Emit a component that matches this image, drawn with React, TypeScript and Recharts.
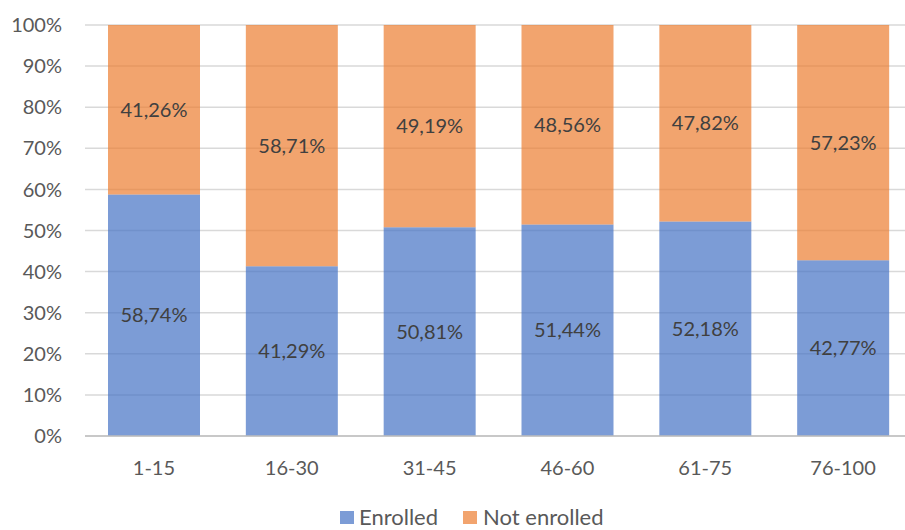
import React from "react";
import { BarChart, Bar, XAxis, YAxis, CartesianGrid, Legend, LabelList } from "recharts";

const categories = ["1-15", "16-30", "31-45", "46-60", "61-75", "76-100"];
const enrolled = [58.74, 41.29, 50.81, 51.44, 52.18, 42.77];
const notEnrolled = [41.26, 58.71, 49.19, 48.56, 47.82, 57.23];
const yTicks = [0, 10, 20, 30, 40, 50, 60, 70, 80, 90, 100];

const data = categories.map((c, i) => ({
  group: c,
  enrolled: enrolled[i],
  notEnrolled: notEnrolled[i],
}));

const FONT = "Lato, 'Open Sans', sans-serif";
const BLUE = "#4472C4";
const ORANGE = "#ED7D31";

const fmt = (v: any) => Number(v).toFixed(2).replace(".", ",") + "%";

const LegendContent = () => (
  <div style={{ display: "flex", alignItems: "center", fontFamily: FONT, fontSize: 22, color: "#595959", lineHeight: "22px" }}>
    <span style={{ width: 14, height: 13, background: BLUE, opacity: 0.7, display: "inline-block", marginRight: 5 }} />
    <span style={{ marginRight: 25 }}>Enrolled</span>
    <span style={{ width: 14, height: 13, background: ORANGE, opacity: 0.7, display: "inline-block", marginRight: 6 }} />
    <span>Not enrolled</span>
  </div>
);

export default function App() {
  return (
    <div style={{ position: "fixed", left: 0, top: 0, width: 905, height: 530, overflow: "hidden", background: "#fff" }}>
      <BarChart
        width={912}
        height={530}
        data={data}
        margin={{ top: 25, right: 0, left: 0, bottom: 42 }}
        barSize={92}
      >
        <CartesianGrid vertical={false} stroke="#d9d9d9" strokeWidth={1.5} />
        <XAxis
          dataKey="group"
          height={30}
          axisLine={{ stroke: "#bfbfbf", strokeWidth: 1.5 }}
          tickLine={false}
          tickMargin={19}
          tick={{ fill: "#595959", fontSize: 20, fontFamily: FONT }}
        />
        <YAxis
          width={85}
          domain={[0, 100]}
          ticks={yTicks}
          tickFormatter={(v: number) => v + "%"}
          axisLine={false}
          tickLine={false}
          tickMargin={17}
          tick={{ fill: "#595959", fontSize: 20, fontFamily: FONT }}
        />
        <Legend
          verticalAlign="bottom"
          height={22}
          content={() => <LegendContent />}
          wrapperStyle={{ top: 506, left: 340, width: "auto" }}
        />
        <Bar dataKey="enrolled" name="Enrolled" stackId="s" fill={BLUE} fillOpacity={0.7} isAnimationActive={false}>
          <LabelList dataKey="enrolled" position="center" formatter={fmt} fill="#404040" fontSize={20} fontFamily={FONT} />
        </Bar>
        <Bar dataKey="notEnrolled" name="Not enrolled" stackId="s" fill={ORANGE} fillOpacity={0.7} isAnimationActive={false}>
          <LabelList dataKey="notEnrolled" position="center" formatter={fmt} fill="#404040" fontSize={20} fontFamily={FONT} />
        </Bar>
      </BarChart>
    </div>
  );
}
